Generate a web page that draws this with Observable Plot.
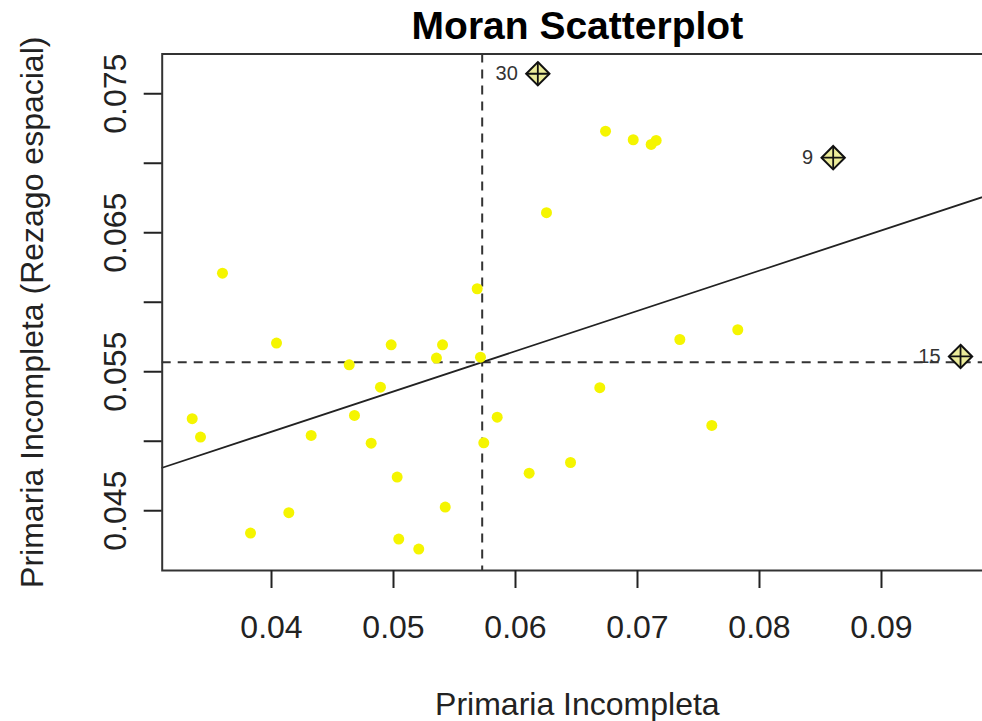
<!DOCTYPE html>
<html>
<head>
<meta charset="utf-8">
<script src="https://cdn.jsdelivr.net/npm/d3@7"></script>
<script src="https://cdn.jsdelivr.net/npm/@observablehq/plot@0.6"></script>
<style>
  html, body { margin: 0; padding: 0; background: #ffffff; }
  #chart { width: 982px; height: 721px; overflow: hidden; }
</style>
</head>
<body>
<div id="chart"></div>
<script>
// ---- Data ----
const primariaIncompleta = [
  0.04041, 0.04981, 0.05402, 0.05352, 0.05713, 0.04637, 0.04893, 0.03350,
  0.03418, 0.04680, 0.04325, 0.04817, 0.05850, 0.05740, 0.05030, 0.06112,
  0.06451, 0.05424, 0.04142, 0.03828, 0.05043, 0.05207, 0.03598, 0.05686,
  0.06254, 0.06738, 0.06965, 0.07112, 0.07153, 0.07347, 0.07822, 0.06691,
  0.07609
];
const rezagoEspacial = [
  0.05706, 0.05694, 0.05694, 0.05598, 0.05605, 0.05550, 0.05389, 0.05162,
  0.05030, 0.05186, 0.05042, 0.04986, 0.05173, 0.04989, 0.04742, 0.04770,
  0.04847, 0.04526, 0.04486, 0.04339, 0.04296, 0.04224, 0.06209, 0.06097,
  0.06644, 0.07231, 0.07169, 0.07135, 0.07164, 0.05732, 0.05802, 0.05385,
  0.05114
];
const influentialIds = ["30", "9", "15"];
const influentialX = [0.06183, 0.08604, 0.09648];
const influentialY = [0.07644, 0.07040, 0.05610];

const meanX = 0.05727;       // vertical dashed line
const meanY = 0.05569;       // horizontal dashed line
const moranSlope = 0.2896;   // slope of the regression line

const xTicks = [0.04, 0.05, 0.06, 0.07, 0.08, 0.09];
const yTicks = [0.045, 0.05, 0.055, 0.06, 0.065, 0.07, 0.075];
const yTickLabels = [0.045, 0.055, 0.065, 0.075];

const xDomain = [0.03104, 0.0991];
const yDomain = [0.0407, 0.07786];

const titleText = "Moran Scatterplot";
const xLabel = "Primaria Incompleta";
const yLabel = "Primaria Incompleta (Rezago espacial)";

// ---- Tables built from the arrays ----
const points = primariaIncompleta.map((x, i) => ({x, y: rezagoEspacial[i]}));
const influential = influentialIds.map((id, i) => ({id, x: influentialX[i], y: influentialY[i]}));
const regLine = xDomain.map(x => ({x, y: meanY + moranSlope * (x - meanX)}));

const FONT = "'Liberation Sans', Arial, Helvetica, sans-serif";
const ML = 161.7, MT = 53.5, MB = 151;

const chart = Plot.plot({
  width: 982,
  height: 721,
  marginLeft: ML,
  marginTop: MT,
  marginBottom: MB,
  marginRight: -10,
  style: {fontFamily: FONT, background: "#ffffff", color: "#222"},
  x: {domain: xDomain},
  y: {domain: yDomain},
  marks: [
    Plot.ruleX([meanX], {stroke: "#333", strokeWidth: 2, strokeDasharray: "9,7"}),
    Plot.ruleY([meanY], {stroke: "#333", strokeWidth: 2, strokeDasharray: "9,7"}),
    Plot.line(regLine, {x: "x", y: "y", stroke: "#222", strokeWidth: 1.8}),
    Plot.dot(points, {x: "x", y: "y", r: 5.5, fill: "#f5f500", stroke: "none"}),
    Plot.dot(influential, {x: "x", y: "y", symbol: d3.symbolDiamond2, r: 10.5,
      fill: "#ecec9a", stroke: "#111", strokeWidth: 2}),
    Plot.dot(influential, {x: "x", y: "y", symbol: d3.symbolPlus, r: 7.4,
      fill: "none", stroke: "#111", strokeWidth: 1.8}),
    Plot.text(influential, {x: "x", y: "y", text: "id", dx: -20, textAnchor: "end",
      fontSize: 20, fill: "#333"}),
    Plot.frame({stroke: "#333", strokeWidth: 2}),
    Plot.axisX({ticks: xTicks, tickSize: 18, tickPadding: 27, fontSize: 32,
      strokeWidth: 2, label: null, tickFormat: d => d.toFixed(2), fill: "#222"}),
    Plot.axisY({ticks: yTicks, tickSize: 18, strokeWidth: 2, label: null,
      tickFormat: () => ""}),
    Plot.text(yTickLabels, {y: d => d, frameAnchor: "left", dx: -36, rotate: -90,
      text: d => String(d), fontSize: 32, lineAnchor: "bottom", textAnchor: "middle", fill: "#222"}),
    Plot.text([xLabel], {frameAnchor: "bottom", dy: 144, lineAnchor: "bottom", textAnchor: "middle",
      text: d => d, fontSize: 32, fill: "#222"}),
    Plot.text([yLabel], {frameAnchor: "left", dx: 42 - ML, rotate: -90, lineAnchor: "bottom",
      textAnchor: "middle", text: d => d, fontSize: 32, fill: "#222"}),
    Plot.text([titleText], {frameAnchor: "top", dy: -15, lineAnchor: "bottom", textAnchor: "middle",
      text: d => d, fontSize: 39, fontWeight: "bold", fill: "#000"})
  ]
});
document.getElementById("chart").append(chart);
</script>
</body>
</html>
